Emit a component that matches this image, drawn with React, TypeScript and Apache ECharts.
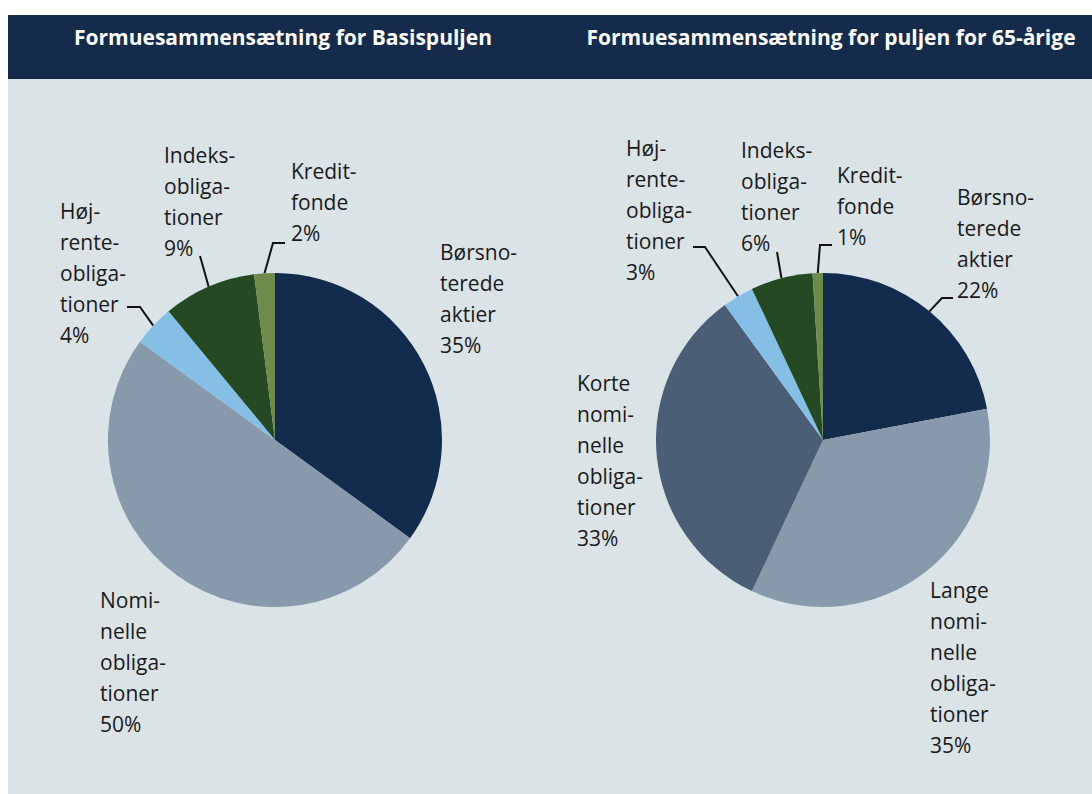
import React, { useEffect, useRef } from "react";
import * as echarts from "echarts";

const titles = [
  "Formuesammensætning for Basispuljen",
  "Formuesammensætning for puljen for 65-årige",
];

const basisCategories = [
  "Børsnoterede aktier",
  "Nominelle obligationer",
  "Højrenteobligationer",
  "Indeksobligationer",
  "Kreditfonde",
];
const basisLabels = [
  "Børsno-\nterede\naktier",
  "Nomi-\nnelle\nobliga-\ntioner",
  "Høj-\nrente-\nobliga-\ntioner",
  "Indeks-\nobliga-\ntioner",
  "Kredit-\nfonde",
];
const basisValues = [35, 50, 4, 9, 2];

const pulje65Categories = [
  "Børsnoterede aktier",
  "Lange nominelle obligationer",
  "Korte nominelle obligationer",
  "Højrenteobligationer",
  "Indeksobligationer",
  "Kreditfonde",
];
const pulje65Labels = [
  "Børsno-\nterede\naktier",
  "Lange\nnomi-\nnelle\nobliga-\ntioner",
  "Korte\nnomi-\nnelle\nobliga-\ntioner",
  "Høj-\nrente-\nobliga-\ntioner",
  "Indeks-\nobliga-\ntioner",
  "Kredit-\nfonde",
];
const pulje65Values = [22, 35, 33, 3, 6, 1];

const basisColors = ["#132b4c", "#8799aa", "#85bfe6", "#254a23", "#6e8b4c"];
const pulje65Colors = ["#132b4c", "#8799aa", "#4a5e75", "#85bfe6", "#254a23", "#6e8b4c"];

// layout (label placement & leader-line bends)
type LabelPos = { x: number; y: number; line?: number[][] };
const basisLayout: LabelPos[] = [
  { x: 440, y: 236 },
  { x: 100, y: 584 },
  { x: 60, y: 195, line: [[140, 307], [127, 307]] },
  { x: 164, y: 139, line: [[200, 256], [200, 256]] },
  { x: 291, y: 155, line: [[273, 243], [285, 243]] },
];
const pulje65Layout: LabelPos[] = [
  { x: 957, y: 181, line: [[942, 298], [953, 298]] },
  { x: 930, y: 574 },
  { x: 577, y: 367 },
  { x: 626, y: 132, line: [[705, 247], [693, 247]] },
  { x: 741, y: 134, line: [[777, 252], [777, 252]] },
  { x: 837, y: 159, line: [[820, 245], [832, 245]] },
];

const RADIUS = 167;
const CENTERS = [
  [275, 440],
  [823, 440],
];
const FONT = "'Open Sans', 'DejaVu Sans', sans-serif";

function edgePoint(values: number[], idx: number, center: number[]) {
  const total = values.reduce((a, b) => a + b, 0);
  let cum = 0;
  for (let i = 0; i < idx; i++) cum += values[i];
  const mid = (cum + values[idx] / 2) / total;
  const ang = mid * Math.PI * 2;
  return [center[0] + RADIUS * Math.sin(ang), center[1] - RADIUS * Math.cos(ang)];
}

function makeSeries(
  cats: string[],
  labels: string[],
  values: number[],
  colors: string[],
  layout: LabelPos[],
  center: number[]
) {
  return {
    type: "pie",
    center,
    radius: RADIUS,
    startAngle: 90,
    clockwise: true,
    avoidLabelOverlap: false,
    emphasis: { disabled: true },
    silent: true,
    label: {
      show: true,
      position: "outside",
      formatter: (p: any) => labels[p.dataIndex] + "\n" + p.value + "%",
      fontFamily: FONT,
      fontSize: 21,
      lineHeight: 31,
      color: "#1a1a1a",
      align: "left",
    },
    labelLine: {
      show: true,
      lineStyle: { color: "#111", width: 2 },
    },
    labelLayout: (p: any) => {
      const L = layout[p.dataIndex];
      const res: any = { x: L.x, y: L.y, align: "left", verticalAlign: "top" };
      if (L.line) {
        res.labelLinePoints = [edgePoint(values, p.dataIndex, center), ...L.line];
      }
      return res;
    },
    data: cats.map((name, i) => ({
      name,
      value: values[i],
      itemStyle: { color: colors[i] },
      labelLine: { show: !!layout[i].line },
    })),
  };
}

export default function App() {
  const ref = useRef<HTMLDivElement>(null);
  useEffect(() => {
    if (!ref.current) return;
    const chart = echarts.init(ref.current, undefined, { renderer: "svg" });
    chart.setOption({
      animation: false,
      backgroundColor: "#ffffff",
      graphic: [
        { type: "rect", z: -10, shape: { x: 8, y: 79, width: 1084, height: 715 }, style: { fill: "#dae3e6" } },
        { type: "rect", z: -10, shape: { x: 8, y: 15, width: 1084, height: 64 }, style: { fill: "#142b4c" } },
        {
          type: "text",
          x: 283,
          y: 37,
          style: {
            text: titles[0],
            align: "center",
            verticalAlign: "middle",
            fill: "#ffffff",
            fontSize: 21,
            fontWeight: "bold",
            fontFamily: FONT,
          },
        },
        {
          type: "text",
          x: 831,
          y: 37,
          style: {
            text: titles[1],
            align: "center",
            verticalAlign: "middle",
            fill: "#ffffff",
            fontSize: 21,
            fontWeight: "bold",
            fontFamily: FONT,
          },
        },
      ],
      series: [
        makeSeries(basisCategories, basisLabels, basisValues, basisColors, basisLayout, CENTERS[0]),
        makeSeries(pulje65Categories, pulje65Labels, pulje65Values, pulje65Colors, pulje65Layout, CENTERS[1]),
      ],
    });
    return () => chart.dispose();
  }, []);
  return (
    <div
      ref={ref}
      style={{ position: "fixed", left: 0, top: 0, width: 1092, height: 794 }}
    />
  );
}
